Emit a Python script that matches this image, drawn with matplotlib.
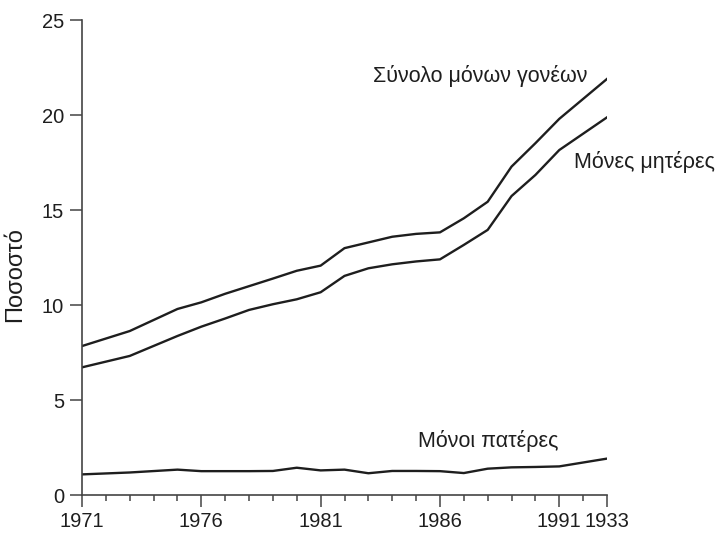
import matplotlib
matplotlib.use("Agg")
import matplotlib.pyplot as plt
from matplotlib.ticker import FixedLocator, MultipleLocator

plt.rcParams['font.family'] = ['Liberation Sans', 'DejaVu Sans']

years = [1971, 1973, 1975, 1976, 1977, 1978, 1979, 1980, 1981, 1982,
         1983, 1984, 1985, 1986, 1987, 1988, 1989, 1990, 1991, 1993]
total = [7.85, 8.64, 9.8, 10.15, 10.6, 11.0, 11.4, 11.81, 12.08, 13.0,
         13.3, 13.6, 13.75, 13.83, 14.57, 15.44, 17.29, 18.52, 19.8, 21.9]
mothers = [6.73, 7.33, 8.38, 8.87, 9.3, 9.75, 10.05, 10.31, 10.68, 11.54,
           11.94, 12.15, 12.3, 12.41, 13.17, 13.96, 15.74, 16.85, 18.16, 19.88]
fathers = [1.1, 1.2, 1.35, 1.27, 1.27, 1.27, 1.28, 1.45, 1.31, 1.35,
           1.16, 1.28, 1.28, 1.27, 1.17, 1.4, 1.47, 1.49, 1.52, 1.93]

major_ticks = [1971, 1976, 1981, 1986, 1991, 1993]
major_labels = ["1971", "1976", "1981", "1986", "1991", "1933"]
y_ticks = [0, 5, 10, 15, 20, 25]

series_labels = ["Σύνολο μόνων γονέων", "Μόνες μητέρες", "Μόνοι πατέρες"]
ylabel = "Ποσοστό"

fig = plt.figure(figsize=(7.25, 5.34), dpi=100)
ax = fig.add_axes([82/725, 1-495.3/534, (607-82)/725, (495.3-20)/534])

line_kw = dict(color='#1e1e1e', lw=1.7)
ax.plot(years, total, **line_kw)
ax.plot(years, mothers, **line_kw)
ax.plot(years, fathers, **line_kw)

ax.set_xlim(1971, 1993)
ax.set_ylim(0, 25)

for s in ['top', 'right']:
    ax.spines[s].set_visible(False)
for s in ['left', 'bottom']:
    ax.spines[s].set_color('#444444')
    ax.spines[s].set_linewidth(1.2)

ax.xaxis.set_major_locator(FixedLocator(major_ticks))
ax.set_xticklabels(major_labels)
ax.xaxis.set_minor_locator(MultipleLocator(1))
ax.set_yticks(y_ticks)

ax.tick_params(axis='x', which='major', direction='out', length=8.5, width=1.1,
               color='#444444', labelsize=14.5, pad=3.5, labelcolor='#1e1e1e')
ax.tick_params(axis='x', which='minor', direction='out', length=4.5, width=1.1,
               color='#444444')
ax.tick_params(axis='y', direction='out', length=9, width=1.1, color='#444444',
               labelsize=14.5, pad=4, labelcolor='#1e1e1e')

ax.set_ylabel(ylabel, fontsize=17, color='#1e1e1e')
ax.yaxis.set_label_coords(-0.106, 0.4635)

txt_kw = dict(fontsize=15.5, color='#1e1e1e', ha='left', va='center')
ax.text(1983.2, 22.06, series_labels[0], **txt_kw)
ax.text(1991.6, 17.53, series_labels[1], **txt_kw, clip_on=False)
ax.text(1985.06, 2.86, series_labels[2], **txt_kw)

fig.savefig("out.png", dpi=100)
